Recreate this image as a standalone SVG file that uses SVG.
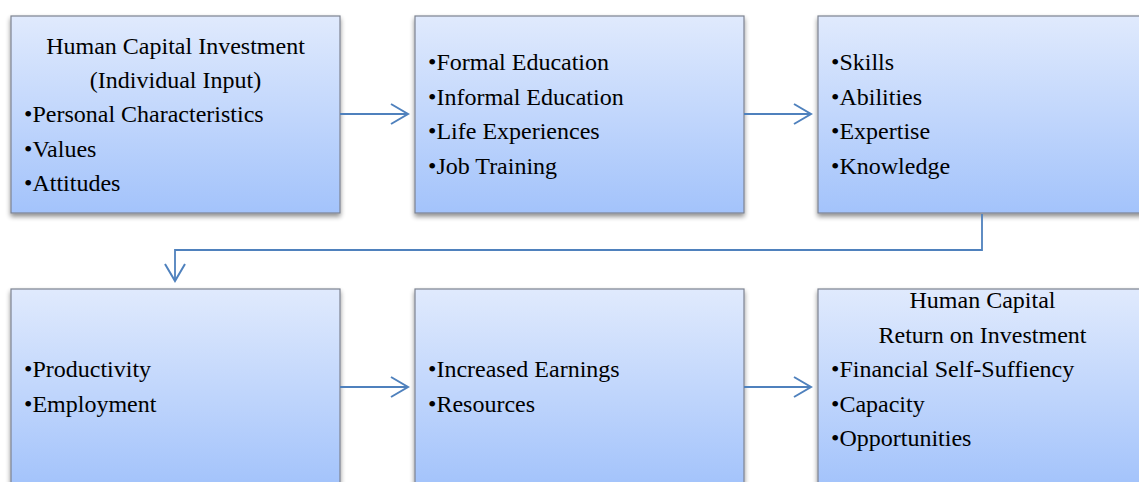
<svg xmlns="http://www.w3.org/2000/svg" width="1139" height="482" viewBox="0 0 1139 482">
<defs>
<linearGradient id="g" x1="0" y1="0" x2="0" y2="1">
<stop offset="0" stop-color="#e0eafd"/>
<stop offset="1" stop-color="#a3c3fb"/>
</linearGradient>
<filter id="sh" x="-5%" y="-5%" width="112%" height="115%">
<feGaussianBlur in="SourceAlpha" stdDeviation="2.5"/>
<feOffset dx="0" dy="3" result="b"/>
<feComponentTransfer><feFuncA type="linear" slope="0.45"/></feComponentTransfer>
<feMerge><feMergeNode/><feMergeNode in="SourceGraphic"/></feMerge>
</filter>
<marker id="ah" markerWidth="20" markerHeight="24" refX="18" refY="11" orient="auto" markerUnits="userSpaceOnUse">
<path d="M1,1 L18,11 L1,21" fill="none" stroke="#4f81bd" stroke-width="2"/>
</marker>
</defs>
<style>
.box{fill:url(#g);stroke:#7d8391;stroke-width:1.2;filter:url(#sh)}
text{font-family:"Liberation Serif","Times New Roman",serif;font-size:24px;fill:#000}
.c{text-anchor:middle}
.con{fill:none;stroke:#4f81bd;stroke-width:1.8}
</style>
<g id="n1">
<rect class="box" x="11" y="16" width="329" height="197"/>
<text class="c" x="175.5" y="54">Human Capital Investment</text>
<text class="c" x="175.5" y="88">(Individual Input)</text>
<text x="24" y="122">•Personal Characteristics</text>
<text x="24" y="156.5">•Values</text>
<text x="24" y="191">•Attitudes</text>
</g>
<g id="n2">
<rect class="box" x="415" y="16" width="329" height="197"/>
<text x="428" y="70">•Formal Education</text>
<text x="428" y="105">•Informal Education</text>
<text x="428" y="139">•Life Experiences</text>
<text x="428" y="174">•Job Training</text>
</g>
<g id="n3">
<rect class="box" x="818" y="16" width="329" height="197"/>
<text x="831" y="70">•Skills</text>
<text x="831" y="105">•Abilities</text>
<text x="831" y="139">•Expertise</text>
<text x="831" y="174">•Knowledge</text>
</g>
<g id="n4">
<rect class="box" x="11" y="289" width="329" height="197"/>
<text x="24" y="377">•Productivity</text>
<text x="24" y="412">•Employment</text>
</g>
<g id="n5">
<rect class="box" x="415" y="289" width="329" height="197"/>
<text x="428" y="377">•Increased Earnings</text>
<text x="428" y="412">•Resources</text>
</g>
<g id="n6">
<rect class="box" x="818" y="289" width="329" height="197"/>
<text class="c" x="982.5" y="308">Human Capital</text>
<text class="c" x="982.5" y="343">Return on Investment</text>
<text x="831" y="377">•Financial Self-Suffiency</text>
<text x="831" y="412">•Capacity</text>
<text x="831" y="446">•Opportunities</text>
</g>
<g id="connectors">
<path class="con" d="M340,114 H408" marker-end="url(#ah)"/>
<path class="con" d="M744,114 H811" marker-end="url(#ah)"/>
<path class="con" d="M982,214 V250 H175 V281" marker-end="url(#ah)"/>
<path class="con" d="M340,387 H408" marker-end="url(#ah)"/>
<path class="con" d="M744,387 H811" marker-end="url(#ah)"/>
</g>
</svg>
